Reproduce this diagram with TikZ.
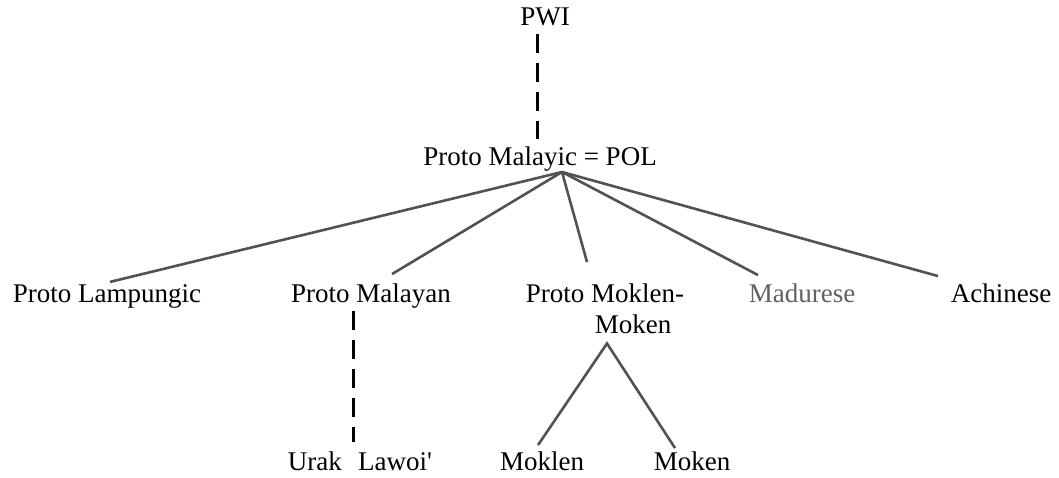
\documentclass[tikz,border=0pt]{standalone}
\usepackage{fontspec}
\setmainfont{Liberation Serif}
\usetikzlibrary{calc}

\begin{document}
\begin{tikzpicture}[x=1pt, y=-1pt, font=\fontsize{27}{33}\selectfont,
  lbl/.style={anchor=base, inner sep=0pt},
  branch/.style={line width=2.6pt, draw=black!68},
  dashline/.style={line width=3pt, dash pattern=on 19pt off 10pt}]
  \useasboundingbox (0,0) rectangle (1059,478);
  % top of the tree
  \node[lbl] (pwi) at (545,26) {PWI};
  \node[lbl] (pol) at (540,166) {Proto Malayic = POL};
  \coordinate (pol-root) at (562,172);
  % first row of daughters
  \node[lbl] (lamp) at (107,302) {Proto Lampungic};
  \node[lbl] (mal) at (371,302) {Proto Malayan};
  \node[lbl] (pmm) at (605,302) {Proto Moklen-};
  \node[lbl] (pmmb) at (633,333) {Moken};
  \node[lbl, text=black!62] (mad) at (802,302) {Madurese};
  \node[lbl] (ach) at (1001,302) {Achinese};
  % bottom row
  \node[lbl] (urak) at (360,470) {Urak\hspace{0.6em}Lawoi\textquotesingle};
  \node[lbl] (moklen) at (542,470) {Moklen};
  \node[lbl] (moken) at (692,470) {Moken};
  % dashed links
  \draw[dashline] ($(pwi.south)+(-8,7)$) -- ($(pol.north)+(-3,-8)$);
  \draw[dashline] ($(mal.south)+(-18,3)$) -- ($(urak.north)+(-7,-9)$);
  % branches from POL
  \draw[branch] (pol-root) -- ($(lamp.north)+(3,-2)$);
  \draw[branch] (pol-root) -- ($(mal.north)+(21,-9)$);
  \draw[branch] (pol-root) -- ($(pmm.north)+(-18,-21)$);
  \draw[branch] (pol-root) -- ($(mad.north)+(-44,-8)$);
  \draw[branch] (pol-root) -- ($(ach.north)+(-63,-7)$);
  % Moklen-Moken split
  \coordinate (pmm-root) at ($(pmmb.south)+(-26,10)$);
  \draw[branch] ($(moklen.north)+(-4,-6)$) -- (pmm-root) -- ($(moken.north)+(-17,-3)$);
\end{tikzpicture}
\end{document}
